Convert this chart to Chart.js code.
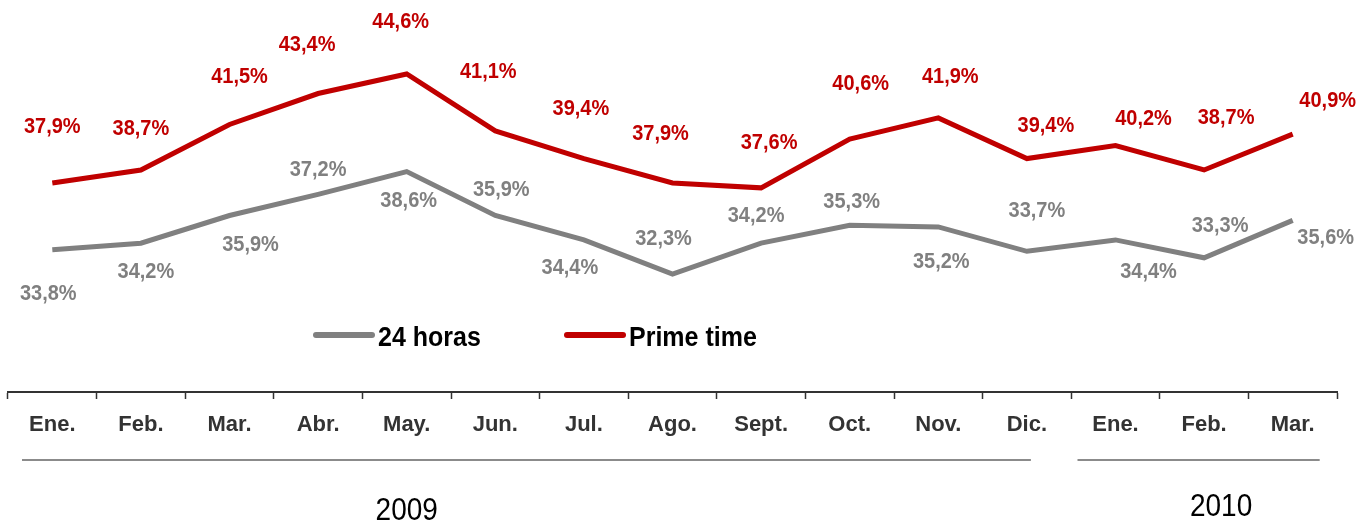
<!DOCTYPE html>
<html lang="es">
<head>
    <meta charset="UTF-8">
    <title>24 horas vs Prime time</title>
    <script src="https://cdn.jsdelivr.net/npm/chart.js"></script>
    <style>
        body { margin: 0; background: #fff; }
        #wrap { width: 1357px; height: 522px; }
    </style>
</head>
<body>
<div id="wrap"><canvas id="shareChart" width="1357" height="522"></canvas></div>
<script>
    // data
    const months = ["Ene.", "Feb.", "Mar.", "Abr.", "May.", "Jun.", "Jul.", "Ago.", "Sept.", "Oct.", "Nov.", "Dic.", "Ene.", "Feb.", "Mar."];
    const horas24 = [33.8, 34.2, 35.9, 37.2, 38.6, 35.9, 34.4, 32.3, 34.2, 35.3, 35.2, 33.7, 34.4, 33.3, 35.6];
    const primeTime = [37.9, 38.7, 41.5, 43.4, 44.6, 41.1, 39.4, 37.9, 37.6, 40.6, 41.9, 39.4, 40.2, 38.7, 40.9];
    const years = ["2009", "2010"];

    // label placement (px offsets from each point)
    const grayLabelPos = [[-4, 44], [5, 29], [21, 30], [0, -24], [2, 29], [6, -25], [-14, 28], [-9, -35],
        [-5, -27], [2, -23], [3, 35], [10, -40], [33, 32], [16, -32], [33, 18]];
    const redLabelPos = [[0, -56], [0, -41], [10, -47], [-11, -48], [-6, -52], [-7, -59], [-3, -50], [-12, -49],
        [8, -45], [11, -55], [12, -41], [19, -33], [28, -27], [22, -52], [35, -33]];

    const GRAY = "#808080";
    const RED = "#C00000";
    const FONT = "'Liberation Sans', Arial, sans-serif";

    const fmt = v => v.toFixed(1).replace(".", ",") + "%";

    // the original text is a bit taller than wide, so stretch it vertically
    function tallText(ctx, text, x, y, sy) {
        ctx.save();
        ctx.translate(x, y);
        ctx.scale(1, sy);
        ctx.fillText(text, 0, 0);
        ctx.restore();
    }

    const pointLabels = {
        id: "pointLabels",
        afterDatasetsDraw(chart) {
            const ctx = chart.ctx;
            ctx.save();
            ctx.font = "bold 20px " + FONT;
            ctx.textAlign = "center";
            ctx.textBaseline = "middle";
            chart.data.datasets.forEach((ds, di) => {
                const pos = di === 0 ? grayLabelPos : redLabelPos;
                chart.getDatasetMeta(di).data.forEach((pt, i) => {
                    ctx.fillStyle = ds.borderColor;
                    tallText(ctx, fmt(ds.data[i]), pt.x + pos[i][0], pt.y + pos[i][1], 1.08);
                });
            });
            ctx.restore();
        }
    };

    // legend in the middle of the plot + year brackets under the axis
    const extras = {
        id: "extras",
        afterDraw(chart) {
            const ctx = chart.ctx;
            const x = chart.scales.x;
            const step = x.getPixelForValue(1) - x.getPixelForValue(0);
            ctx.save();

            // legend
            ctx.lineCap = "round";
            ctx.lineWidth = 6;
            const items = [[GRAY, "24 horas", 316], [RED, "Prime time", 567]];
            items.forEach(([c, t, lx]) => {
                ctx.strokeStyle = c;
                ctx.beginPath();
                ctx.moveTo(lx, 335);
                ctx.lineTo(lx + 56, 335);
                ctx.stroke();
                ctx.fillStyle = "#000";
                ctx.font = "bold 25px " + FONT;
                ctx.textAlign = "left";
                ctx.textBaseline = "middle";
                tallText(ctx, t, lx + 62, 338, 1.1);
            });

            // year brackets
            ctx.lineCap = "butt";
            ctx.lineWidth = 1.5;
            ctx.strokeStyle = "#666";
            const y = 460;
            const l0 = x.getPixelForValue(0) - step / 2 + 14;
            const r0 = x.getPixelForValue(11) + 4;
            const l1 = x.getPixelForValue(12) - 38;
            const r1 = x.getPixelForValue(14) + 27;
            ctx.beginPath();
            ctx.moveTo(l0, y); ctx.lineTo(r0, y);
            ctx.moveTo(l1, y); ctx.lineTo(r1, y);
            ctx.stroke();

            ctx.fillStyle = "#000";
            ctx.font = "28px " + FONT;
            ctx.textAlign = "center";
            ctx.textBaseline = "middle";
            tallText(ctx, years[0], x.getPixelForValue(4), 511, 1.12);
            tallText(ctx, years[1], x.getPixelForValue(13) + 17, 507, 1.12);
            ctx.restore();
        }
    };

    new Chart(document.getElementById("shareChart"), {
        type: "line",
        data: {
            labels: months,
            datasets: [
                {
                    label: "24 horas",
                    data: horas24,
                    borderColor: GRAY,
                    borderWidth: 5,
                    pointRadius: 0,
                    tension: 0,
                    fill: false
                },
                {
                    label: "Prime time",
                    data: primeTime,
                    borderColor: RED,
                    borderWidth: 5,
                    pointRadius: 0,
                    tension: 0,
                    fill: false
                }
            ]
        },
        options: {
            responsive: false,
            animation: false,
            layout: { padding: { left: 8, right: 20, top: 0, bottom: 0 } },
            plugins: {
                legend: { display: false },
                tooltip: { enabled: false }
            },
            scales: {
                y: { display: false, min: 25.05, max: 49.15 },
                x: {
                    offset: true,
                    afterFit(scale) { scale.height = 130; },
                    border: { display: true, color: "#333", width: 2 },
                    grid: {
                        offset: true,
                        drawOnChartArea: false,
                        drawTicks: true,
                        tickLength: 7,
                        tickColor: "#333",
                        tickWidth: 1.5
                    },
                    ticks: {
                        color: "#333",
                        padding: 13,
                        maxRotation: 0,
                        autoSkip: false,
                        font: { family: FONT, size: 22, weight: "bold" }
                    }
                }
            }
        },
        plugins: [pointLabels, extras]
    });
</script>
</body>
</html>
